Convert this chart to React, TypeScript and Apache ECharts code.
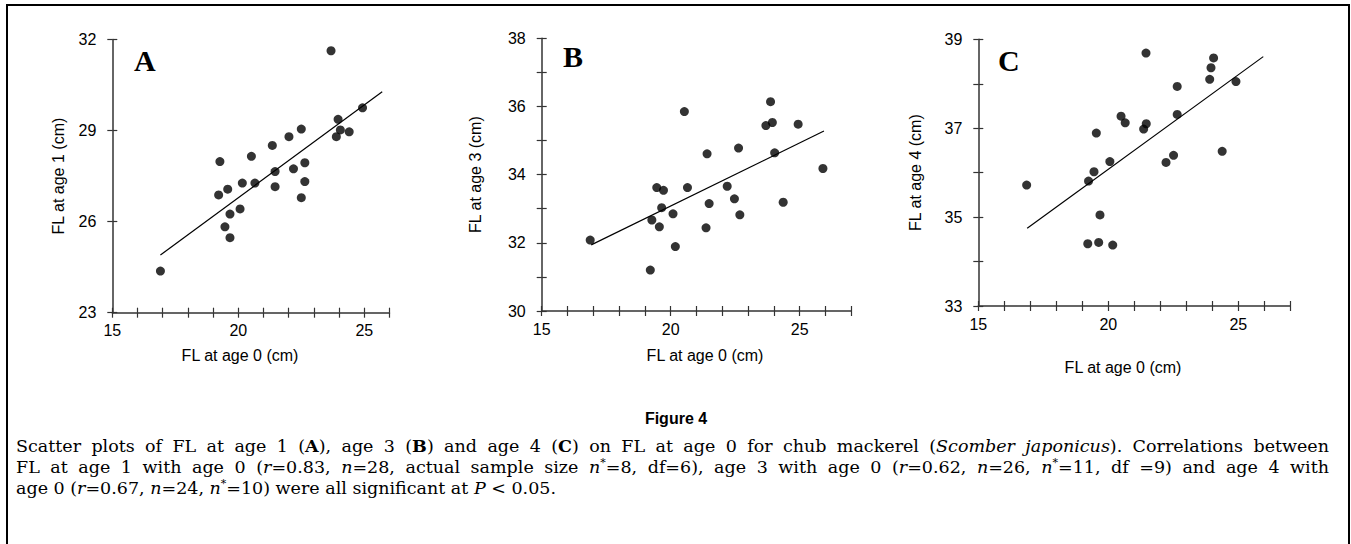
import React, { useEffect, useRef } from "react";
import * as echarts from "echarts";

// Panel A: FL at age 0 (x) vs FL at age 1 (y)
const fl0A = [16.91, 23.68, 24.93, 23.96, 24.05, 24.4, 23.89, 22.5, 22.01, 21.35, 20.52, 19.27, 21.46, 22.19, 22.64, 22.64, 21.46, 20.66, 20.16, 19.58, 19.22, 22.5, 20.07, 19.67, 19.47, 19.67];
const fl1A = [24.37, 31.63, 29.75, 29.37, 29.02, 28.96, 28.8, 29.05, 28.8, 28.51, 28.15, 27.98, 27.65, 27.74, 27.94, 27.32, 27.15, 27.27, 27.27, 27.07, 26.88, 26.79, 26.42, 26.25, 25.83, 25.47];
// Panel B: FL at age 0 (x) vs FL at age 3 (y)
const fl0B = [16.88, 19.21, 19.27, 19.56, 19.46, 19.72, 19.65, 20.09, 20.18, 20.53, 20.65, 21.41, 21.49, 21.37, 22.19, 22.47, 22.63, 22.68, 23.69, 23.94, 23.87, 24.03, 24.36, 24.94, 25.9];
const fl3B = [32.08, 31.2, 32.67, 32.47, 33.62, 33.54, 33.03, 32.85, 31.89, 35.85, 33.62, 34.61, 33.15, 32.44, 33.66, 33.29, 34.78, 32.82, 35.44, 35.53, 36.14, 34.64, 33.19, 35.48, 34.18];
// Panel C: FL at age 0 (x) vs FL at age 4 (y)
const fl0C = [16.86, 19.21, 19.63, 20.17, 19.68, 19.24, 19.45, 19.54, 20.06, 20.49, 20.65, 21.36, 21.46, 21.45, 22.22, 22.51, 22.65, 22.65, 23.9, 23.95, 24.05, 24.38, 24.91];
const fl4C = [35.72, 34.4, 34.43, 34.37, 35.05, 35.81, 36.02, 36.89, 36.25, 37.27, 37.12, 36.98, 37.1, 38.69, 36.23, 36.39, 37.31, 37.94, 38.1, 38.36, 38.58, 36.48, 38.05];

// Regression line end points
const fitAx = [16.91, 25.71];
const fitAy = [24.9, 30.28];
const fitBx = [16.92, 25.94];
const fitBy = [31.94, 35.28];
const fitCx = [16.88, 25.96];
const fitCy = [34.75, 38.61];

// Tick labels
const xTickLabels = [15, 20, 25];
const yTicksA = [23, 26, 29, 32];
const yLabelsB = [30, 32, 34, 36, 38];
const yLabelsC = [33, 35, 37, 39];

const SANS = '"Liberation Sans", Arial, sans-serif';
const SERIF = '"DejaVu Serif", serif';
const CAP_SIZE = 17.5;

type Seg = [string, string?];
const captionLines: Seg[][] = [
  [["Scatter plots of FL at age 1 ("], ["A", "b"], ["), age 3 ("], ["B", "b"], [") and age 4 ("], ["C", "b"], [") on FL at age 0 for chub mackerel ("], ["Scomber japonicus", "i"], ["). Correlations between"]],
  [["FL at age 1 with age 0 ("], ["r", "i"], ["=0.83, "], ["n", "i"], ["=28, actual sample size "], ["n", "i"], ["*", "sup"], ["=8, df=6), age 3 with age 0 ("], ["r", "i"], ["=0.62, "], ["n", "i"], ["=26, "], ["n", "i"], ["*", "sup"], ["=11, df =9) and age 4 with"]],
  [["age 0 ("], ["r", "i"], ["=0.67, "], ["n", "i"], ["=24, "], ["n", "i"], ["*", "sup"], ["=10) were all significant at "], ["P", "i"], [" < 0.05."]],
];

function segFont(s?: string) {
  if (s === "i") return `italic ${CAP_SIZE}px ${SERIF}`;
  if (s === "b") return `bold ${CAP_SIZE}px ${SERIF}`;
  if (s === "sup") return `11px ${SERIF}`;
  return `${CAP_SIZE}px ${SERIF}`;
}

function buildCaption(): any[] {
  const ctx = document.createElement("canvas").getContext("2d") as CanvasRenderingContext2D;
  const left = 16;
  const right = 1329;
  const ys = [446, 467, 488];
  const rich = {
    i: { fontStyle: "italic", fontFamily: SERIF, fontSize: CAP_SIZE, fill: "#000", lineHeight: 21 },
    b: { fontWeight: "bold", fontFamily: SERIF, fontSize: CAP_SIZE, fill: "#000", lineHeight: 21 },
    sup: { fontFamily: SERIF, fontSize: 11, fill: "#000", verticalAlign: "top", lineHeight: 21 },
  };
  const out: any[] = [];
  captionLines.forEach((line, li) => {
    const words: Seg[][] = [[]];
    line.forEach(([t, s]) => {
      const parts = t.split(" ");
      parts.forEach((p, pi) => {
        if (pi > 0) words.push([]);
        if (p.length) words[words.length - 1].push([p, s]);
      });
    });
    const ws = words.filter((w) => w.length);
    const widths = ws.map((w) =>
      w.reduce((acc, [t, s]) => {
        ctx.font = segFont(s);
        return acc + ctx.measureText(t).width;
      }, 0)
    );
    ctx.font = segFont();
    const space = ctx.measureText(" ").width;
    const total = widths.reduce((a, b) => a + b, 0);
    const justify = li < captionLines.length - 1;
    const gap = justify ? Math.max(space * 0.6, (right - left - total) / (ws.length - 1)) : space;
    let x = left;
    ws.forEach((w, wi) => {
      const text = w.map(([t, s]) => (s ? `{${s}|${t}}` : t)).join("");
      out.push({
        type: "text",
        x,
        y: ys[li],
        style: {
          text,
          fontFamily: SERIF,
          fontSize: CAP_SIZE,
          fill: "#000",
          lineHeight: 21,
          verticalAlign: "middle",
          align: "left",
          rich,
        },
      });
      x += widths[wi] + gap;
    });
  });
  return out;
}

const zip = (xs: number[], ys: number[]) => xs.map((x, i) => [x, ys[i]]);

export default function App() {
  const ref = useRef<HTMLDivElement>(null);
  useEffect(() => {
    if (!ref.current) return;
    const chart = echarts.init(ref.current, null, { renderer: "svg" });

    const panels = [
      { x: fl0A, y: fl1A, fx: fitAx, fy: fitAy, yMin: 23, yMax: 32, yTicks: yTicksA, yLabels: yTicksA, xMax: 26, grid: { left: 112.3, top: 39.5, width: 277.2, height: 273.2 }, yName: "FL at age 1 (cm)", nameGap: 46 },
      { x: fl0B, y: fl3B, fx: fitBx, fy: fitBy, yMin: 30, yMax: 38, yTicks: null, yLabels: yLabelsB, xMax: 27, grid: { left: 541.7, top: 38.3, width: 309.6, height: 272.7 }, yName: "FL at age 3 (cm)", nameGap: 58 },
      { x: fl0C, y: fl4C, fx: fitCx, fy: fitCy, yMin: 33, yMax: 39, yTicks: null, yLabels: yLabelsC, xMax: 27, grid: { left: 978.3, top: 39.3, width: 312, height: 266.7 }, yName: "FL at age 4 (cm)", nameGap: 55 },
    ];

    const axisColor = "#333";
    const grids: any[] = [];
    const xAxes: any[] = [];
    const yAxes: any[] = [];
    const series: any[] = [];
    panels.forEach((p, i) => {
      grids.push({ ...p.grid, containLabel: false, outerBoundsMode: "none" });
      const baseX = { type: "value", gridIndex: i, min: 15, max: p.xMax, interval: 1, splitLine: { show: false }, position: "bottom" };
      xAxes.push({
        ...baseX,
        axisLine: { show: true, onZero: false, lineStyle: { color: axisColor, width: 1.5 } },
        axisTick: { show: true, inside: false, length: 5, lineStyle: { color: axisColor, width: 1.2 } },
        axisLabel: { show: true, customValues: xTickLabels, fontSize: 16, fontFamily: SANS, color: "#000", margin: 10 },
      });
      xAxes.push({
        ...baseX,
        axisLine: { show: false, onZero: false },
        axisTick: { show: true, inside: true, length: 5, lineStyle: { color: axisColor, width: 1.2 } },
        axisLabel: { show: false },
      });
      const baseY: any = { type: "value", gridIndex: i, min: p.yMin, max: p.yMax, interval: 1, splitLine: { show: false }, position: "left" };
      const tickCustom = p.yTicks ? { customValues: p.yTicks } : {};
      yAxes.push({
        ...baseY,
        name: p.yName,
        nameLocation: "middle",
        nameGap: p.nameGap,
        nameTextStyle: { fontSize: 16, fontFamily: SANS, color: "#000" },
        axisLine: { show: true, onZero: false, lineStyle: { color: axisColor, width: 1.5 } },
        axisTick: { show: true, inside: false, length: 5, lineStyle: { color: axisColor, width: 1.2 }, ...tickCustom },
        axisLabel: { show: true, customValues: p.yLabels, fontSize: 16, fontFamily: SANS, color: "#000", margin: 16 },
      });
      yAxes.push({
        ...baseY,
        axisLine: { show: false, onZero: false },
        axisTick: { show: true, inside: true, length: 5, lineStyle: { color: axisColor, width: 1.2 }, ...tickCustom },
        axisLabel: { show: false },
      });
      series.push({
        type: "line",
        xAxisIndex: i * 2,
        yAxisIndex: i * 2,
        data: zip(p.fx, p.fy),
        symbol: "none",
        lineStyle: { color: "#000", width: 1.2 },
        z: 2,
        silent: true,
      });
      series.push({
        type: "scatter",
        xAxisIndex: i * 2,
        yAxisIndex: i * 2,
        data: zip(p.x, p.y),
        symbol: "circle",
        symbolSize: 9,
        itemStyle: { color: "#000" },
        z: 3,
      });
    });

    const letter = (t: string, x: number, y: number) => ({
      type: "text",
      x,
      y,
      style: { text: t, fontFamily: '"Liberation Serif", "Times New Roman", serif', fontWeight: "bold", fontSize: 30, fill: "#000", verticalAlign: "middle", align: "left" },
    });
    const xName = (x: number, y: number) => ({
      type: "text",
      x,
      y,
      style: { text: "FL at age 0 (cm)", fontFamily: SANS, fontSize: 16, fill: "#000", verticalAlign: "middle", align: "center" },
    });

    const graphic: any[] = [
      { type: "rect", shape: { x: 7, y: 5, width: 1342, height: 560 }, style: { fill: "none", stroke: "#000", lineWidth: 2 } },
      letter("A", 134, 60),
      letter("B", 563, 56),
      letter("C", 998, 60),
      xName(240, 355),
      xName(705, 355),
      xName(1123, 367),
      {
        type: "text",
        x: 676,
        y: 418,
        style: { text: "Figure 4", fontFamily: SANS, fontWeight: "bold", fontSize: 16, fill: "#000", verticalAlign: "middle", align: "center" },
      },
      ...buildCaption(),
    ];

    chart.setOption({
      animation: false,
      backgroundColor: "#fff",
      grid: grids,
      xAxis: xAxes,
      yAxis: yAxes,
      series,
      graphic,
    });
    return () => chart.dispose();
  }, []);

  return <div ref={ref} style={{ position: "fixed", left: 0, top: 0, width: 1351, height: 544 }} />;
}
